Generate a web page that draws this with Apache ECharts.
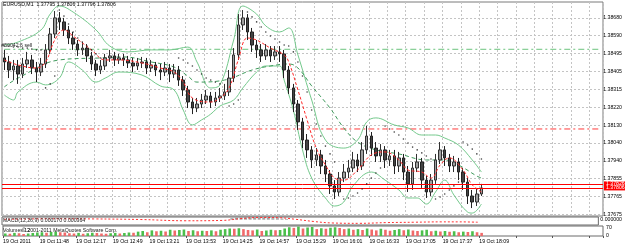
<!DOCTYPE html>
<html><head><meta charset="utf-8">
<script src="https://cdn.jsdelivr.net/npm/echarts@6/dist/echarts.min.js"></script>
<style>html,body{margin:0;padding:0;background:#fff}#c{width:625px;height:248px}</style>
</head><body><div id="c"></div>
<script>
// ---- tick labels ----
const priceLabels = ['1.37675','1.37765','1.37855','1.37940','1.38040','1.38130','1.38220','1.38315','1.38405','1.38495','1.38590','1.38680'];
const timeLabels = ['19 Oct 2011','19 Oct 11:48','19 Oct 12:17','19 Oct 12:49','19 Oct 13:21','19 Oct 13:53','19 Oct 14:25','19 Oct 14:57','19 Oct 15:29','19 Oct 16:01','19 Oct 16:33','19 Oct 17:05','19 Oct 17:37','19 Oct 18:09'];
const titleText = 'EURUSD,M1  1.37795 1.37806 1.37796 1.37806';
const macdText = 'MACD(12,26,9) 0.000170 0.000364';
const volText = 'Volumes 12';
const copyText = '\u00a9 2001-2011 MetaQuotes Software Corp.';
const orderText = '#50042:6 sell';

// ---- candles (one per slot) ----
const openP = [1.38452,1.38432,1.38392,1.38412,1.38372,1.38422,1.38442,1.38402,1.38382,1.38422,
1.38492,1.38571,1.38651,1.38631,1.38591,1.38551,1.38521,1.38492,1.38501,1.38462,
1.38422,1.38392,1.38412,1.38452,1.38462,1.38442,1.38452,1.38442,1.38427,1.38412,
1.38427,1.38432,1.38402,1.38417,1.38392,1.38382,1.38402,1.38372,1.38392,1.38342,
1.38293,1.38233,1.38203,1.38223,1.38243,1.38263,1.38233,1.38253,1.38263,1.38283,
1.38352,1.38467,1.38616,1.38651,1.38581,1.38516,1.38492,1.38462,1.38492,1.38462,
1.38482,1.38472,1.38392,1.38303,1.38223,1.38134,1.38044,1.37995,1.37945,1.37970,
1.37915,1.37875,1.37816,1.37786,1.37855,1.37885,1.37905,1.37945,1.37915,1.37995,
1.38064,1.38004,1.37965,1.37995,1.37945,1.37965,1.37915,1.37955,1.37885,1.37826,
1.37905,1.37935,1.37845,1.37786,1.37845,1.37945,1.37995,1.37955,1.37915,1.37935,
1.37885,1.37835,1.37766,1.37736,1.37776];
const closeP = [1.38432,1.38392,1.38412,1.38372,1.38422,1.38442,1.38402,1.38382,1.38422,1.38492,
1.38571,1.38651,1.38631,1.38591,1.38551,1.38521,1.38492,1.38501,1.38462,1.38422,
1.38392,1.38412,1.38452,1.38462,1.38442,1.38452,1.38442,1.38427,1.38412,1.38427,
1.38432,1.38402,1.38417,1.38392,1.38382,1.38402,1.38372,1.38392,1.38342,1.38293,
1.38233,1.38203,1.38223,1.38243,1.38263,1.38233,1.38253,1.38263,1.38283,1.38352,
1.38467,1.38616,1.38651,1.38581,1.38516,1.38492,1.38462,1.38492,1.38462,1.38482,
1.38472,1.38392,1.38303,1.38223,1.38134,1.38044,1.37995,1.37945,1.37970,1.37915,
1.37875,1.37816,1.37786,1.37855,1.37885,1.37905,1.37945,1.37915,1.37995,1.38064,
1.38004,1.37965,1.37995,1.37945,1.37965,1.37915,1.37955,1.37885,1.37826,1.37905,
1.37935,1.37845,1.37786,1.37845,1.37945,1.37995,1.37955,1.37915,1.37935,1.37885,
1.37835,1.37766,1.37736,1.37776,1.37806];
const highP = [1.38492,1.38462,1.38442,1.38442,1.38452,1.38482,1.38467,1.38432,1.38452,1.38521,
1.38601,1.38685,1.38680,1.38651,1.38611,1.38581,1.38541,1.38531,1.38521,1.38482,
1.38442,1.38442,1.38472,1.38492,1.38482,1.38472,1.38472,1.38462,1.38452,1.38452,
1.38457,1.38452,1.38442,1.38432,1.38422,1.38432,1.38422,1.38422,1.38412,1.38362,
1.38313,1.38253,1.38253,1.38273,1.38293,1.38283,1.38283,1.38303,1.38323,1.38392,
1.38501,1.38670,1.38690,1.38670,1.38601,1.38541,1.38521,1.38521,1.38511,1.38511,
1.38511,1.38492,1.38412,1.38323,1.38243,1.38154,1.38074,1.38014,1.38004,1.37995,
1.37945,1.37895,1.37845,1.37885,1.37925,1.37945,1.37985,1.37975,1.38034,1.38114,
1.38084,1.38034,1.38024,1.38014,1.37995,1.37995,1.37985,1.37975,1.37915,1.37935,
1.37975,1.37955,1.37865,1.37875,1.37975,1.38034,1.38014,1.37975,1.37965,1.37955,
1.37905,1.37855,1.37796,1.37806,1.37826];
const lowP = [1.38392,1.38352,1.38342,1.38323,1.38352,1.38402,1.38372,1.38332,1.38362,1.38402,
1.38472,1.38551,1.38591,1.38561,1.38521,1.38492,1.38462,1.38467,1.38432,1.38392,
1.38362,1.38372,1.38392,1.38432,1.38412,1.38422,1.38412,1.38402,1.38382,1.38392,
1.38402,1.38372,1.38382,1.38362,1.38342,1.38362,1.38332,1.38352,1.38313,1.38263,
1.38203,1.38173,1.38183,1.38203,1.38223,1.38203,1.38213,1.38233,1.38243,1.38263,
1.38332,1.38442,1.38591,1.38541,1.38482,1.38452,1.38432,1.38442,1.38432,1.38442,
1.38432,1.38352,1.38273,1.38183,1.38094,1.38004,1.37955,1.37905,1.37915,1.37875,
1.37835,1.37776,1.37751,1.37766,1.37835,1.37855,1.37885,1.37885,1.37895,1.37975,
1.37965,1.37935,1.37935,1.37905,1.37915,1.37875,1.37885,1.37845,1.37786,1.37796,
1.37885,1.37806,1.37756,1.37766,1.37826,1.37925,1.37915,1.37885,1.37885,1.37845,
1.37796,1.37726,1.37706,1.37716,1.37766];
const volumes = [20,18,25,22,16,20,24,28,30,26,32,35,30,28,22,20,25,18,22,26,24,20,18,22,25,20,24,28,26,
35,40,30,45,38,42,36,50,44,48,52,40,46,38,42,
40,45,38,50,55,60,58,62,55,48,45,52,40,44,50,46,48,
60,70,65,75,60,68,72,55,62,58,66,70,64,55,60,
50,55,48,60,52,45,58,50,42,48,55,46,52,44,40,
45,50,38,42,36,40,34,38,30,35,32,38,30,25];

// ---- indicator lines: [slot, value] ----
const bbUpper = [[0,1.38516],[3,1.38531],[8,1.38591],[10,1.38670],[12,1.38710],[15,1.38680],[20,1.38591],[23,1.38511],[27,1.38482],[32,1.38492],[36,1.38492],[40,1.38506],[42,1.38432],[45,1.38303],[47,1.38318],[50,1.38541],[52,1.38710],[55,1.38670],[57,1.38611],[60,1.38581],[62,1.38601],[64,1.38467],[67,1.38243],[70,1.38044],[74,1.38004],[77,1.38044],[79,1.38134],[81,1.38154],[85,1.38119],[88,1.38104],[91,1.38069],[94,1.38069],[96,1.38054],[99,1.38019],[102,1.37945],[104,1.37885]];
const bbLower = [[0,1.38268],[2,1.38243],[3,1.38283],[7,1.38332],[9,1.38318],[12,1.38352],[14,1.38432],[17,1.38392],[20,1.38332],[22,1.38352],[25,1.38382],[30,1.38367],[34,1.38313],[37,1.38293],[39,1.38193],[41,1.38119],[43,1.38144],[45,1.38173],[47,1.38213],[50,1.38243],[52,1.38303],[55,1.38382],[57,1.38412],[60,1.38412],[61,1.38342],[63,1.38193],[65,1.37995],[67,1.37855],[70,1.37756],[72,1.37716],[74,1.37736],[76,1.37816],[80,1.37885],[83,1.37845],[86,1.37796],[88,1.37756],[90,1.37756],[92,1.37726],[94,1.37786],[96,1.37845],[98,1.37771],[101,1.37686],[102,1.37681],[104,1.37726]];
const maFast = [[0,1.38442],[3,1.38417],[7,1.38402],[9,1.38432],[11,1.38541],[13,1.38591],[15,1.38561],[19,1.38492],[22,1.38442],[25,1.38442],[30,1.38427],[34,1.38402],[37,1.38382],[39,1.38332],[41,1.38253],[45,1.38233],[47,1.38253],[49,1.38303],[51,1.38442],[53,1.38551],[55,1.38541],[58,1.38501],[61,1.38467],[62,1.38432],[64,1.38293],[66,1.38144],[68,1.38004],[70,1.37920],[72,1.37855],[74,1.37845],[77,1.37895],[80,1.37970],[83,1.37985],[86,1.37945],[88,1.37895],[91,1.37885],[93,1.37855],[95,1.37920],[97,1.37955],[100,1.37895],[102,1.37821],[104,1.37786]];
const maSlow = [[0,1.38308],[3,1.38352],[12,1.38442],[21,1.38452],[26,1.38457],[32,1.38432],[37,1.38407],[40,1.38362],[42,1.38332],[48,1.38342],[54,1.38392],[58,1.38412],[62,1.38422],[64,1.38402],[67,1.38313],[71,1.38203],[74,1.38104],[77,1.38034],[81,1.37995],[86,1.37975],[92,1.37945],[96,1.37945],[99,1.37920],[103,1.37865],[104,1.37855]];
const sarDots = [[0,1.38511],[1,1.38511],[2,1.38506],[3,1.38506],[4,1.38501],[5,1.38501],[6,1.38496],[7,1.38492],[8,1.38492],
[9,1.38303],[10,1.38323],[11,1.38362],
[12,1.38690],[13,1.38660],[14,1.38621],[15,1.38581],[16,1.38551],[17,1.38531],[18,1.38511],[19,1.38492],[20,1.38472],[21,1.38452],
[38,1.38452],[39,1.38442],[40,1.38427],[41,1.38412],[42,1.38392],[43,1.38372],[44,1.38352],[45,1.38342],[46,1.38332],[47,1.38323],
[49,1.38213],[50,1.38223],[51,1.38243],
[53,1.38680],[54,1.38656],[55,1.38631],[56,1.38606],[57,1.38581],[58,1.38561],[59,1.38546],[60,1.38531],[61,1.38516],
[62,1.38511],[63,1.38482],[64,1.38432],[65,1.38362],[66,1.38283],[67,1.38193],[68,1.38124],[69,1.38064],[70,1.38014],[71,1.37975],[72,1.37935],
[74,1.37751],[75,1.37756],[76,1.37766],[77,1.37781],[78,1.37801],[79,1.37826],[80,1.37855],[81,1.37880],[82,1.37905],
[83,1.38114],[84,1.38099],[85,1.38084],[86,1.38069],[87,1.38049],[88,1.38029],[89,1.38009],[90,1.37995],[91,1.37980],[92,1.37965],[93,1.37950],
[94,1.37751],[95,1.37761],[96,1.37776],[97,1.37796],[98,1.37816],[99,1.37835],
[100,1.38034],[101,1.38019],[102,1.37999],[103,1.37975],[104,1.37950]];
const macdHist = [[50,0.0002],[51,0.0003],[52,0.00035],[53,0.00035],[54,0.0003],[55,0.0003],[56,0.00028],[57,0.00025],[58,0.00025],[59,0.0002],[60,0.0002],[61,0.00015],[62,0.0001]];
const macdSignal = [[0,0.00005],[10,0.00012],[20,0.0001],[30,0.00002],[40,-0.00015],[48,-0.0001],[52,0.00015],[56,0.0003],[60,0.00028],[64,0.00005],[68,-0.00025],[72,-0.00045],[78,-0.0005],[84,-0.0004],[90,-0.00035],[96,-0.0003],[100,-0.0003],[104,-0.00035]];
// horizontal levels
const orderLevel = 1.38495;
const stopLevel = 1.38099;
const askLevel = 1.37826;
const bidLevel = 1.37806;

// ---- build ----
const SLOTS = 131;
const cats = [];
for (let i = 0; i < SLOTS; i++) cats.push(String(i));
const candles = openP.map((o, i) => [o, closeP[i], lowP[i], highP[i]]);
const volData = volumes.map((v, i) => ({
  value: v,
  itemStyle: { color: (i === 0 || v >= volumes[i - 1]) ? '#4cbf4c' : '#f06a6a' }
}));

const FONT = 'Liberation Sans';
const FS = 5.2;
const gridDash = { color: '#c4c4c4', type: [2, 2], width: 1 };
const L = 2, W = 601;
const priceTag = { show: true, position: 'end', distance: 1, formatter: p => p.value.toFixed(5), fontSize: FS, color: '#fff',
  backgroundColor: '#ff0000', padding: [0, 2], fontFamily: FONT };

// a horizontal level spanning the whole price window, drawn as a line series
function levelSeries(value, color, dash, label) {
  return {
    type: 'line', xAxisIndex: 0, yAxisIndex: 0, silent: true, z: 2, showSymbol: false,
    data: [[cats[0], value], [cats[SLOTS - 1], value]],
    lineStyle: { color: color, width: 1, type: dash },
    label: { show: false },
    markPoint: label ? {
      symbol: 'rect', symbolSize: 0.01, silent: true,
      label: label,
      data: [{ coord: [cats[0], value] }]
    } : undefined
  };
}
function tagLine(value) {
  return {
    type: 'line', xAxisIndex: 0, yAxisIndex: 0, data: [], silent: true, z: 2,
    markLine: { symbol: 'none', silent: true, animation: false, precision: 5,
      lineStyle: { color: '#ff0000', width: 1, type: 'solid' }, label: priceTag, data: [{ yAxis: value }] }
  };
}

const chart = echarts.init(document.getElementById('c'), null, { renderer: 'canvas' });
chart.setOption({
  animation: false,
  backgroundColor: '#fff',
  textStyle: { fontFamily: FONT },
  title: [
    { text: titleText, left: 3, top: 2, padding: 0, textStyle: { fontSize: FS, fontWeight: 'normal', color: '#000', fontFamily: FONT } },
    { text: macdText, left: 3, top: 218.5, padding: 0, textStyle: { fontSize: FS, fontWeight: 'normal', color: '#222', fontFamily: FONT } },
    { text: volText, left: 3, top: 228, padding: 0, textStyle: { fontSize: FS, fontWeight: 'normal', color: '#222', fontFamily: FONT } },
    { text: copyText, left: 22, top: 228, padding: 0, textStyle: { fontSize: FS, fontWeight: 'normal', color: '#222', fontFamily: FONT } }
  ],
  grid: [
    { left: L, top: 2, width: W, height: 214, show: true, borderColor: '#7a7a7a', borderWidth: 1, backgroundColor: 'transparent' },
    { left: L, top: 217, width: W, height: 8, show: true, borderColor: '#6a6a6a', borderWidth: 1 },
    { left: L, top: 226, width: W, height: 10, show: true, borderColor: '#6a6a6a', borderWidth: 1 },
    { left: L, top: -6.36, width: W, height: 238.72, show: false }
  ],
  xAxis: [
    { type: 'category', gridIndex: 0, data: cats, boundaryGap: true,
      axisLine: { show: false }, axisTick: { show: false }, axisLabel: { show: false },
      splitLine: { show: true, interval: 3, lineStyle: gridDash } },
    { type: 'category', gridIndex: 1, data: cats, boundaryGap: true, show: false },
    { type: 'category', gridIndex: 2, data: cats, boundaryGap: true, show: false },
    { type: 'value', gridIndex: 2, min: 0, max: SLOTS, interval: 8, position: 'bottom',
      axisLine: { show: false },
      axisTick: { show: true, length: 2, lineStyle: { color: '#555' } },
      splitLine: { show: false },
      axisLabel: { show: true, align: 'left', margin: 3, fontSize: FS, color: '#000', fontFamily: FONT,
        formatter: v => timeLabels[Math.round(v / 8)] || '' } },
    { type: 'value', gridIndex: 3, min: 0, max: 1, show: false }
  ],
  yAxis: [
    { type: 'value', gridIndex: 0, min: 1.376665, max: 1.38730, show: false, scale: true },
    { type: 'value', gridIndex: 1, min: -0.000728, max: 0.000364, interval: 0.000364, position: 'right',
      axisLine: { show: false }, axisTick: { show: false }, splitLine: { show: false },
      axisLabel: { margin: 2, fontSize: FS, color: '#000', fontFamily: FONT,
        formatter: v => v >= -1e-9 ? Math.abs(v).toFixed(6) : '' } },
    { type: 'value', gridIndex: 2, min: 0, max: 80, interval: 70, position: 'right',
      axisLine: { show: false }, axisTick: { show: false }, splitLine: { show: false },
      axisLabel: { margin: 3, fontSize: FS, color: '#000', fontFamily: FONT } },
    { type: 'value', gridIndex: 3, min: -1, max: 12, interval: 1, position: 'right',
      axisLine: { show: false }, axisTick: { show: false },
      splitLine: { show: true, showMinLine: false, showMaxLine: false, lineStyle: gridDash },
      axisLabel: { margin: 3, fontSize: FS, color: '#000', fontFamily: FONT, showMinLabel: false, showMaxLabel: false,
        formatter: v => priceLabels[Math.round(v)] || '' } }
  ],
  series: [
    levelSeries(orderLevel, '#6cc47e', [6, 3, 2, 3],
      { show: true, position: 'right', distance: 0, offset: [-3, -3.5], formatter: orderText, fontSize: FS, color: '#222', fontFamily: FONT }),
    levelSeries(stopLevel, '#ff3b3b', [6, 3, 2, 3]),
    tagLine(askLevel),
    tagLine(bidLevel),
    { type: 'line', xAxisIndex: 0, yAxisIndex: 0, data: bbUpper, smooth: 0.4, showSymbol: false, silent: true,
      lineStyle: { color: '#74c98c', width: 1 }, z: 3 },
    { type: 'line', xAxisIndex: 0, yAxisIndex: 0, data: bbLower, smooth: 0.4, showSymbol: false, silent: true,
      lineStyle: { color: '#74c98c', width: 1 }, z: 3 },
    { type: 'line', xAxisIndex: 0, yAxisIndex: 0, data: maSlow, smooth: 0.4, showSymbol: false, silent: true,
      lineStyle: { color: '#3f9a5c', width: 1, type: [4, 3] }, z: 3 },
    { type: 'candlestick', xAxisIndex: 0, yAxisIndex: 0, data: candles, barWidth: 3, silent: true,
      itemStyle: { color: '#a0a0a0', color0: '#444444', borderColor: '#303030', borderColor0: '#222222', borderWidth: 1 },
      z: 4 },
    { type: 'line', xAxisIndex: 0, yAxisIndex: 0, data: maFast, smooth: 0.4, showSymbol: false, silent: true,
      lineStyle: { color: '#ff2a2a', width: 1, type: [3, 2] }, z: 5 },
    { type: 'scatter', xAxisIndex: 0, yAxisIndex: 0, data: sarDots, symbol: 'circle', symbolSize: 1.6, silent: true,
      itemStyle: { color: '#111' }, z: 6 },
    { type: 'bar', xAxisIndex: 1, yAxisIndex: 1, data: macdHist, barWidth: 3, silent: true,
      itemStyle: { color: '#a0a0a0' } },
    { type: 'line', xAxisIndex: 1, yAxisIndex: 1, data: macdSignal, smooth: 0.4, showSymbol: false, silent: true,
      lineStyle: { color: '#ff3030', width: 1, type: [2, 2] } },
    { type: 'bar', xAxisIndex: 2, yAxisIndex: 2, data: volData, barWidth: 2.6, silent: true }
  ]
});
</script>
</body></html>
